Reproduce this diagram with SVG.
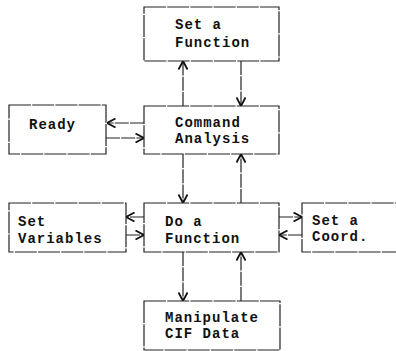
<svg xmlns="http://www.w3.org/2000/svg" width="396" height="351" viewBox="0 0 396 351">
<style>
.box{fill:#fff;stroke:#222;stroke-width:1.2;stroke-dasharray:22 1.2}
.t{font-family:"Liberation Mono",monospace;font-size:14px;font-weight:bold;letter-spacing:1px;fill:#111}
.c{fill:none;stroke:#222;stroke-width:1.2;stroke-dasharray:14 1.2;marker-end:url(#ah)}
</style>
<defs>
<marker id="ah" viewBox="0 0 10 10" refX="9.5" refY="5" markerWidth="10" markerHeight="10" markerUnits="userSpaceOnUse" orient="auto">
<path d="M1,0.5 L9.5,5 L1,9.5" fill="none" stroke="#111" stroke-width="1.8"/>
</marker>
</defs>
<rect width="396" height="351" fill="#fff"/>
<g id="connectors">
<line class="c" x1="183" y1="106" x2="183" y2="61"/>
<line class="c" x1="241" y1="61" x2="241" y2="106"/>
<line class="c" x1="144" y1="123" x2="107" y2="123"/>
<line class="c" x1="106" y1="138" x2="144" y2="138"/>
<line class="c" x1="183" y1="154" x2="183" y2="203"/>
<line class="c" x1="241" y1="203" x2="241" y2="154"/>
<line class="c" x1="144" y1="217" x2="126" y2="217"/>
<line class="c" x1="126" y1="235" x2="144" y2="235"/>
<line class="c" x1="279" y1="217" x2="302" y2="217"/>
<line class="c" x1="302" y1="235" x2="279" y2="235"/>
<line class="c" x1="183" y1="252" x2="183" y2="301"/>
<line class="c" x1="241" y1="301" x2="241" y2="252"/>
</g>
<g id="set-function">
<rect class="box" x="144" y="7" width="135" height="54"/>
<text class="t" x="175" y="29">Set a</text>
<text class="t" x="175" y="47">Function</text>
</g>
<g id="ready">
<rect class="box" x="9" y="105" width="97" height="49"/>
<text class="t" x="29" y="129">Ready</text>
</g>
<g id="command-analysis">
<rect class="box" x="144" y="106" width="135" height="48"/>
<text class="t" x="175" y="127">Command</text>
<text class="t" x="175" y="143">Analysis</text>
</g>
<g id="set-variables">
<rect class="box" x="9" y="203" width="117" height="49"/>
<text class="t" x="18" y="226">Set</text>
<text class="t" x="18" y="243">Variables</text>
</g>
<g id="do-function">
<rect class="box" x="144" y="203" width="135" height="49"/>
<text class="t" x="165" y="226">Do a</text>
<text class="t" x="165" y="243">Function</text>
</g>
<g id="set-coord">
<rect class="box" x="302" y="203" width="96" height="49"/>
<text class="t" x="312" y="225">Set a</text>
<text class="t" x="312" y="241">Coord.</text>
</g>
<g id="manipulate">
<rect class="box" x="144" y="301" width="136" height="49"/>
<text class="t" x="165" y="322">Manipulate</text>
<text class="t" x="165" y="338">CIF Data</text>
</g>
</svg>
